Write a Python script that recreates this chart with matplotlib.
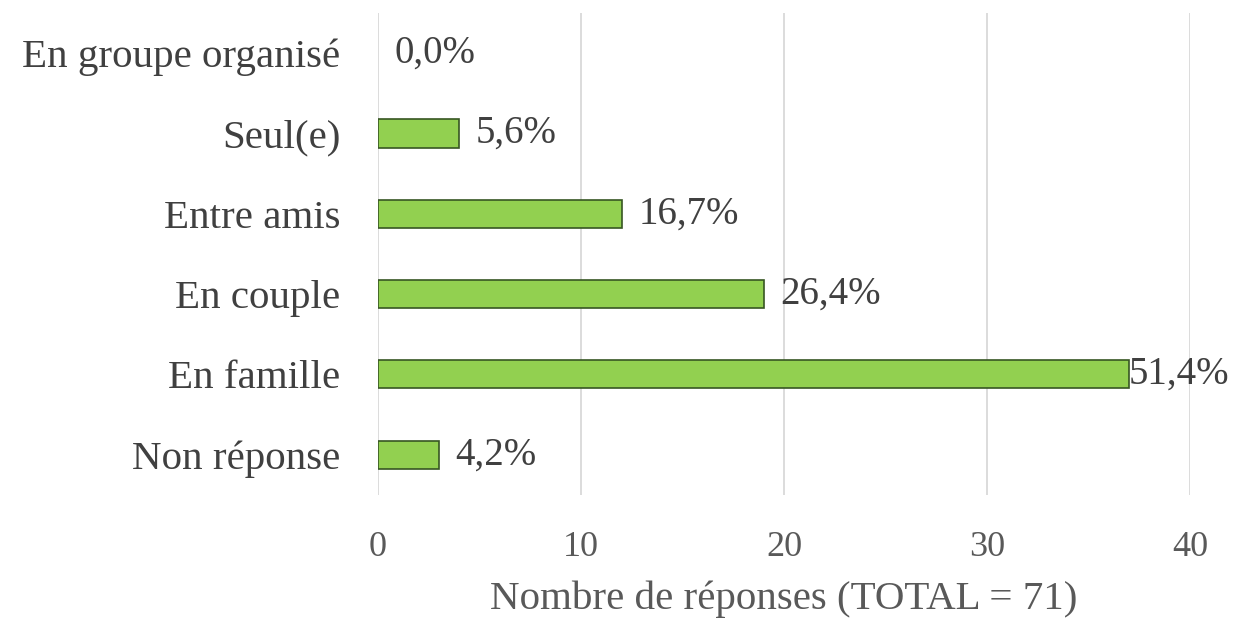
import matplotlib.pyplot as plt

# Data (count of answers, percentage labels)
categories = ['Non réponse', 'En famille', 'En couple', 'Entre amis', 'Seul(e)', 'En groupe organisé']
counts = [3, 37, 19, 12, 4, 0]
pct_labels = ['4,2%', '51,4%', '26,4%', '16,7%', '5,6%', '0,0%']
xticks = [0, 10, 20, 30, 40]

plt.rcParams['font.family'] = ['Liberation Serif', 'DejaVu Serif']
text_col = '#404040'
tick_col = '#595959'

fig = plt.figure(figsize=(12.36, 6.24), dpi=100)
ax = fig.add_axes([0.3058, 0.207, 0.6570, 0.772])

bars = ax.barh(range(len(categories)), counts, height=0.35,
               color='#92D050', edgecolor='#375623',
               linewidth=[1.2 if c > 0 else 0 for c in counts], zorder=3)

ax.set_xlim(0, 40)
ax.set_ylim(-0.5, len(categories) - 0.5)
ax.set_xticks(xticks)
ax.set_yticks(range(len(categories)))
ax.set_yticklabels(categories, fontsize=29.5, color=text_col)
ax.tick_params(axis='x', labelsize=26, labelcolor=tick_col, length=0, pad=26)
ax.tick_params(axis='y', length=0, pad=27)
for s in ax.spines.values():
    s.set_visible(False)
ax.grid(axis='x', color='#D9D9D9', linewidth=1.3, zorder=0)

# Value labels
for bar, lab in zip(bars, pct_labels):
    w = bar.get_width()
    off = 0 if w > 33 else 12
    ax.annotate(lab, xy=(w, bar.get_y() + bar.get_height() / 2),
                xytext=(off, 0), textcoords='offset points',
                ha='left', va='center', fontsize=28, color=text_col)

ax.set_xlabel('Nombre de réponses (TOTAL = 71)', fontsize=29.5, color=tick_col, labelpad=12)

fig.savefig('out.png', dpi=100)
